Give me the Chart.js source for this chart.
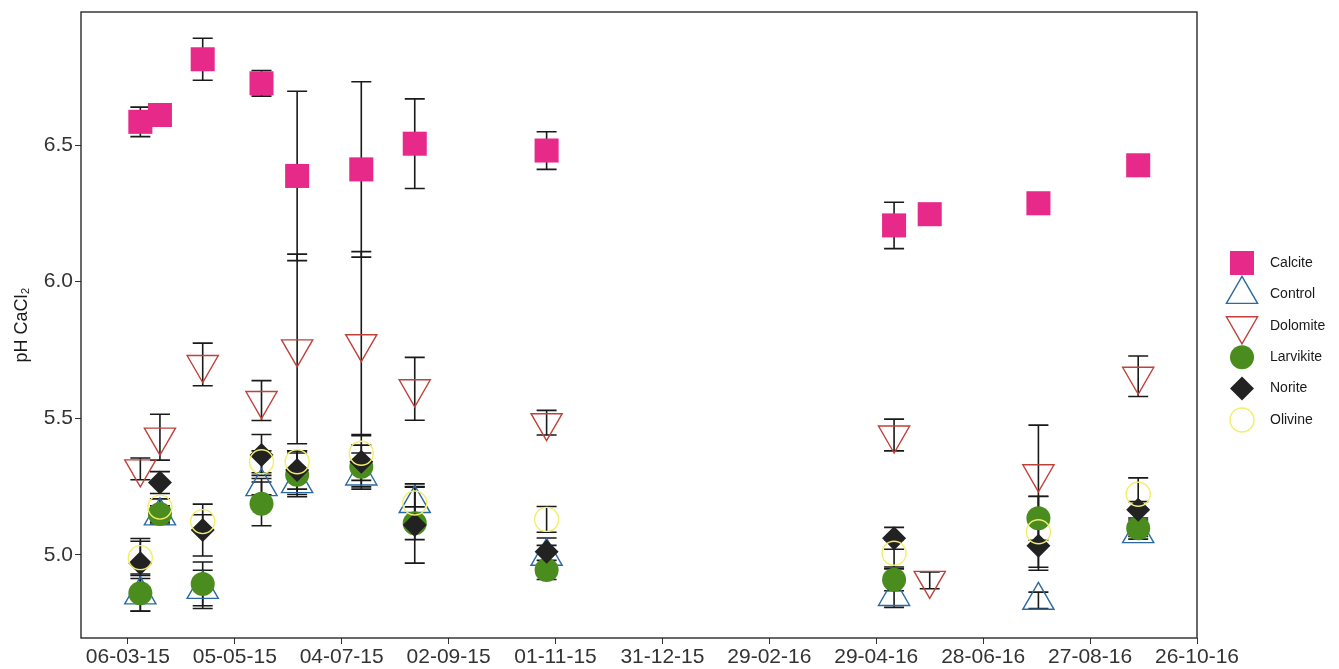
<!DOCTYPE html>
<html>
<head>
<meta charset="utf-8">
<title>pH CaCl2</title>
<script src="https://cdn.jsdelivr.net/npm/chart.js"></script>
<style>
  body{margin:0;background:#fff;}
  #wrap{width:1339px;height:669px;}
</style>
</head>
<body>
<div id="wrap"><canvas id="phChart" width="1339" height="669"></canvas></div>
<script>
// sampling dates (dd-mm-yy)
const sampleDates = ["13-03-15","24-03-15","17-04-15","20-05-15","09-06-15","15-07-15",
  "14-08-15","27-10-15","09-05-16","29-05-16","29-07-16","23-09-16"];

const xTickLabels = ["06-03-15","05-05-15","04-07-15","02-09-15","01-11-15","31-12-15",
  "29-02-16","29-04-16","28-06-16","27-08-16","26-10-16"];
const yTicks = [5.0, 5.5, 6.0, 6.5];

// mean pH and error per date, null = not measured
const calcite    = [6.585, 6.61, 6.814, 6.726, 6.387, 6.411, 6.505, 6.48, 6.206, 6.247, 6.287, 6.426];
const calciteErr = [0.054, null, 0.077, 0.047, 0.31, 0.321, 0.164, 0.069, 0.085, null, null, null];

const control    = [4.854, 5.143, 4.874, 5.25, 5.261, 5.289, 5.188, 4.995, 4.848, null, 4.834, 5.078];
const controlErr = [0.06, 0.03, 0.07, 0.03, 0.04, 0.04, 0.06, 0.04, 0.04, null, 0.03, 0.02];

const dolomite    = [5.315, 5.431, 5.697, 5.565, 5.754, 5.773, 5.608, 5.484, 5.439, 4.907, 5.297, 5.654];
const dolomiteErr = [0.04, 0.084, 0.078, 0.073, 0.347, 0.337, 0.115, 0.045, 0.058, 0.031, 0.178, 0.074];

const larvikite    = [4.86, 5.15, 4.894, 5.187, 5.293, 5.323, 5.116, 4.945, 4.909, null, 5.134, 5.098];
const larvikiteErr = [0.065, 0.03, 0.08, 0.08, 0.08, 0.05, 0.06, 0.035, 0.04, null, 0.08, 0.03];

const norite    = [4.97, 5.265, 5.091, 5.366, 5.311, 5.341, 5.11, 5.012, 5.061, null, 5.034, 5.165];
const noriteErr = [0.09, 0.04, 0.095, 0.075, 0.07, 0.1, 0.14, 0.05, 0.04, null, 0.09, 0.03];

const olivine    = [4.99, 5.175, 5.122, 5.341, 5.341, 5.372, 5.19, 5.13, 5.006, null, 5.085, 5.222];
const olivineErr = [0.06, 0.03, 0.025, 0.04, 0.04, 0.03, 0.07, 0.047, 0.05, null, 0.13, 0.06];

// days since 06-03-15
const DAY = 86400000;
const base = Date.UTC(2015, 2, 6);
function toDay(s){
  let p = s.split("-");
  return (Date.UTC(2000 + Number(p[2]), Number(p[1]) - 1, Number(p[0])) - base) / DAY;
}
function fromDay(d){
  let dt = new Date(base + Math.round(d) * DAY);
  let dd = String(dt.getUTCDate()).padStart(2, "0");
  let mm = String(dt.getUTCMonth() + 1).padStart(2, "0");
  let yy = String(dt.getUTCFullYear() % 100).padStart(2, "0");
  return `${dd}-${mm}-${yy}`;
}

function makeSet(label, values, errs, style){
  let pts = [];
  let e = [];
  values.forEach(function(v, i){
    if(v === null) return;
    pts.push({x: toDay(sampleDates[i]), y: v});
    e.push(errs[i]);
  });
  return Object.assign({label: label, data: pts, errors: e, showLine: false}, style);
}

const datasets = [
  makeSet("Calcite", calcite, calciteErr,
    {pointStyle: "rect", pointRadius: 17, backgroundColor: "#e7298a", borderColor: "#e7298a", pointBorderWidth: 0, order: 6}),
  makeSet("Control", control, controlErr,
    {pointStyle: "triangle", pointRadius: 18, backgroundColor: "rgba(0,0,0,0)", borderColor: "#2b6aa0", pointBorderWidth: 1.4, order: 5}),
  makeSet("Dolomite", dolomite, dolomiteErr,
    {pointStyle: "triangle", pointRotation: 180, pointRadius: 18, backgroundColor: "rgba(0,0,0,0)", borderColor: "#c0403a", pointBorderWidth: 1.4, order: 4}),
  makeSet("Larvikite", larvikite, larvikiteErr,
    {pointStyle: "circle", pointRadius: 12, backgroundColor: "#4a8c1e", borderColor: "#4a8c1e", pointBorderWidth: 0, order: 3}),
  makeSet("Norite", norite, noriteErr,
    {pointStyle: "rectRot", pointRadius: 12, backgroundColor: "#222222", borderColor: "#222222", pointBorderWidth: 0, order: 2}),
  makeSet("Olivine", olivine, olivineErr,
    {pointStyle: "circle", pointRadius: 12, backgroundColor: "rgba(0,0,0,0)", borderColor: "#f2ee6a", pointBorderWidth: 1.4, order: 1})
];

// vertical error bars with caps, under the points
const errorBars = {
  id: "errorBars",
  beforeDatasetsDraw(chart){
    const ctx = chart.ctx;
    const xs = chart.scales.x;
    const ys = chart.scales.y;
    const a = chart.chartArea;
    ctx.save();
    ctx.beginPath();
    ctx.rect(a.left, a.top, a.right - a.left, a.bottom - a.top);
    ctx.clip();
    ctx.strokeStyle = "#1a1a1a";
    ctx.lineWidth = 1.6;
    chart.data.datasets.forEach(function(ds){
      ds.data.forEach(function(p, i){
        let e = ds.errors[i];
        if(e === null || e === undefined) return;
        let px = xs.getPixelForValue(p.x);
        let top = ys.getPixelForValue(p.y + e);
        let bot = ys.getPixelForValue(p.y - e);
        ctx.beginPath();
        ctx.moveTo(px, top); ctx.lineTo(px, bot);
        ctx.moveTo(px - 10, top); ctx.lineTo(px + 10, top);
        ctx.moveTo(px - 10, bot); ctx.lineTo(px + 10, bot);
        ctx.stroke();
      });
    });
    ctx.restore();
  }
};

// panel border and the legend on the right
const frameAndKey = {
  id: "frameAndKey",
  afterDraw(chart){
    const ctx = chart.ctx;
    const a = chart.chartArea;
    ctx.save();
    ctx.strokeStyle = "#1a1a1a";
    ctx.lineWidth = 1.3;
    ctx.strokeRect(a.left, a.top, a.right - a.left, a.bottom - a.top);

    ctx.font = "14px 'Liberation Sans', Arial, sans-serif";
    ctx.textBaseline = "middle";
    chart.data.datasets.forEach(function(ds, i){
      let y = 263 + i * 31.4;
      ctx.fillStyle = ds.backgroundColor;
      ctx.strokeStyle = ds.borderColor;
      ctx.lineWidth = ds.pointBorderWidth;
      Chart.helpers.drawPoint(ctx, {
        pointStyle: ds.pointStyle,
        radius: ds.pointRadius,
        rotation: ds.pointRotation || 0,
        borderWidth: ds.pointBorderWidth
      }, 1242, y);
      ctx.fillStyle = "#1a1a1a";
      ctx.fillText(ds.label, 1270, y);
    });
    ctx.restore();
  }
};

const tickFont = {family: "'Liberation Sans', Arial, sans-serif", size: 21};

new Chart(document.getElementById("phChart"), {
  type: "scatter",
  data: {datasets: datasets},
  plugins: [errorBars, frameAndKey],
  options: {
    responsive: false,
    animation: false,
    layout: {autoPadding: false, padding: {top: 12, right: 142, left: 0, bottom: 0}},
    plugins: {legend: {display: false}, tooltip: {enabled: false}},
    elements: {point: {hoverRadius: 0}},
    scales: {
      x: {
        type: "linear",
        min: toDay("07-02-15") + 0.7,
        max: toDay("26-10-16"),
        afterBuildTicks: function(axis){
          axis.ticks = xTickLabels.map(function(t){ return {value: toDay(t)}; });
        },
        afterFit: function(axis){
          axis.height = 31;
          axis.paddingLeft = 0;
          axis.paddingRight = 0;
        },
        ticks: {
          autoSkip: false, maxRotation: 0, color: "#333", font: tickFont, padding: 1,
          callback: function(v){ return fromDay(v); }
        },
        grid: {drawOnChartArea: false, tickLength: 6, color: "#333"},
        border: {display: false}
      },
      y: {
        min: 4.696,
        max: 6.987,
        afterBuildTicks: function(axis){
          axis.ticks = yTicks.map(function(v){ return {value: v}; });
        },
        afterFit: function(axis){
          axis.width = 81;
          axis.paddingTop = 0;
          axis.paddingBottom = 0;
        },
        ticks: {
          color: "#333", font: tickFont, padding: 2,
          callback: function(v){ return v.toFixed(1); }
        },
        grid: {drawOnChartArea: false, tickLength: 6, color: "#333"},
        border: {display: false},
        title: {
          display: true, text: "pH CaCl\u2082", color: "#1a1a1a",
          font: {family: "'Liberation Sans', Arial, sans-serif", size: 18},
          padding: {top: 11, bottom: 0}
        }
      }
    }
  }
});
</script>
</body>
</html>
